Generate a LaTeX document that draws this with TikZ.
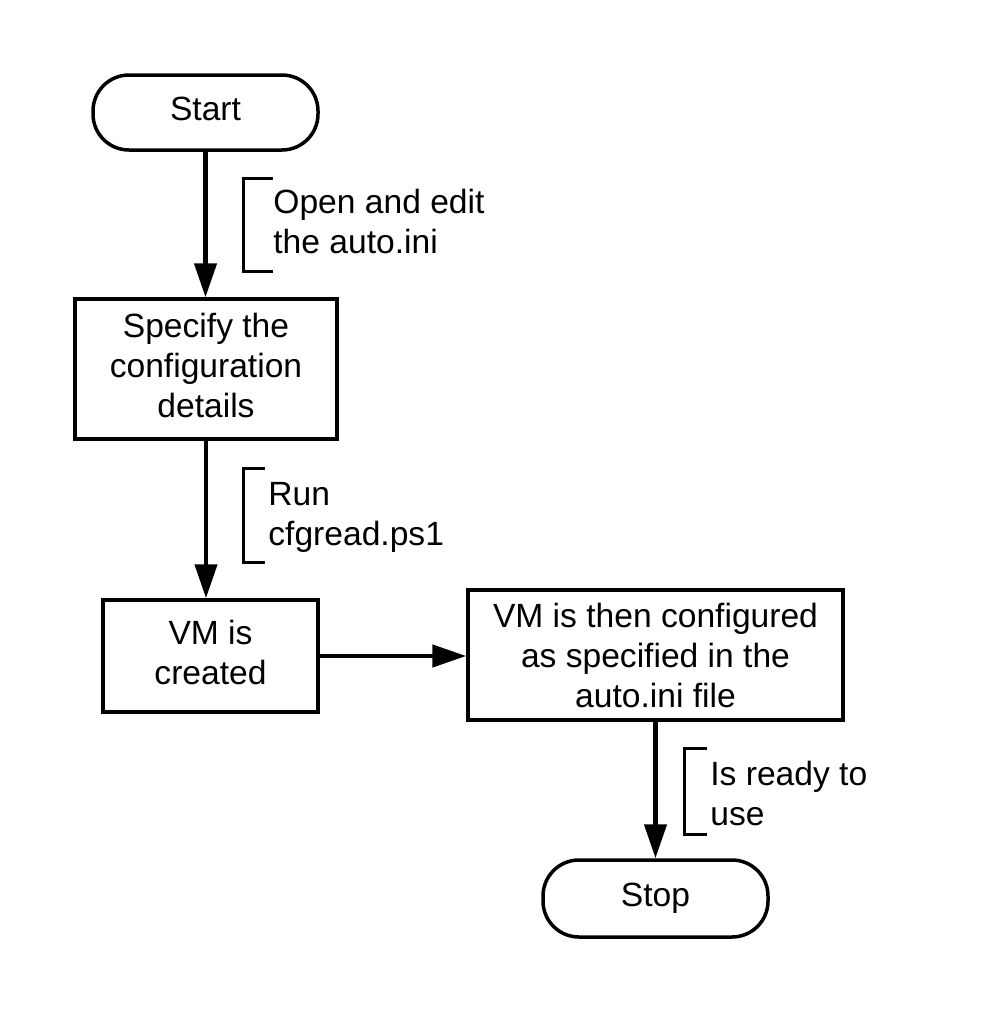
\documentclass[tikz,border=0pt]{standalone}
\usepackage{fontspec}
\setmainfont{Liberation Sans}
\usetikzlibrary{arrows.meta}

\tikzset{
  terminal/.style={draw, line width=1.75pt, rounded corners=18pt, minimum width=112.5pt, minimum height=37.5pt, text depth=4pt},
  process/.style={draw, line width=1.75pt, align=center, inner sep=0pt, text depth=4pt},
  note/.style={align=left, anchor=west, inner sep=0pt},
  flow/.style={line width=2.25pt, -{Triangle[length=17pt,width=11pt]}},
  brk/.style={line width=1.5pt}
}

\begin{document}
\begin{tikzpicture}[x=0.5pt, y=-0.5pt, font=\fontsize{16.8}{20}\selectfont]
    \useasboundingbox (0,0) rectangle (984,1013);

    \node[terminal] (start) at (205.5,112.5) {Start};
    \node[process, minimum width=131pt, minimum height=70pt] (spec) at (206,369) {Specify the\\configuration\\details};
    \node[process, minimum width=107.5pt, minimum height=56pt] (vm) at (210.5,656) {VM is\\created};
    \node[process, minimum width=187.5pt, minimum height=65pt, text depth=0pt] (conf) at (655.5,655) {VM is then configured\\as specified in the\\auto.ini file};
    \node[terminal, minimum height=38.5pt] (stop) at (655.5,898.5) {Stop};

    \draw[flow] (start.south) -- (start.south |- spec.north);
    \draw[flow] (spec.south) -- (spec.south |- vm.north);
    \draw[flow] (vm.east) -- (vm.east -| conf.west);
    \draw[flow] (conf.south) -- (stop.north);

    % annotations
    \node[note] (edit) at (273,221) {Open and edit\\the auto.ini};
    \draw[brk] (273,178) -- (243,178) -- (243,271) -- (273,271);

    \node[note] (run) at (268,517) {Run\\cfgread.ps1};
    \draw[brk] (265,468) -- (243,468) -- (243,562) -- (265,562);

    \node[note] (ready) at (710,793) {Is ready to\\use};
    \draw[brk] (707,748) -- (684,748) -- (684,834) -- (707,834);
\end{tikzpicture}
\end{document}
